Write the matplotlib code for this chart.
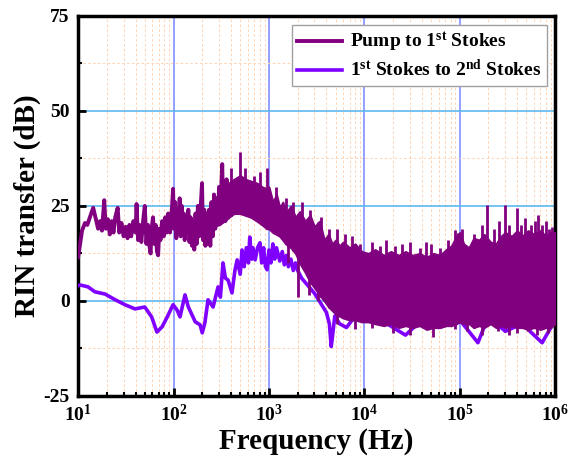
import numpy as np
import matplotlib
matplotlib.use('Agg')
from matplotlib import pyplot as plt
from matplotlib.ticker import LogLocator, MultipleLocator, FixedLocator, FixedFormatter, NullFormatter

plt.rcParams['font.family'] = 'Liberation Serif'
plt.rcParams['font.weight'] = 'bold'
plt.rcParams['mathtext.fontset'] = 'custom'
plt.rcParams['mathtext.rm'] = 'Liberation Serif:bold'
plt.rcParams['mathtext.bf'] = 'Liberation Serif:bold'
plt.rcParams['mathtext.it'] = 'Liberation Serif:bold'
plt.rcParams['axes.unicode_minus'] = False

# ---- pump -> 1st Stokes, low frequency part (single jagged trace)
pump_lf_f = [10, 10.5, 11, 11.8, 12.5, 13.5, 14.4, 15.2, 16.2, 17, 17.8, 18.8, 19.5, 20.5,
             21.5, 22.5, 23.5, 24.5, 26, 27, 28.5, 30, 31.5, 33, 34.5, 36, 38, 40, 41,
             42.5, 44, 46, 48, 50, 52, 54, 56, 57.5, 59, 61, 63, 65, 67, 69, 71, 73, 76,
             79, 82, 85, 88, 92, 95, 99, 101, 104, 107, 110, 113, 116, 119, 122, 125, 128,
             131, 135, 139, 143, 147, 151, 156, 160, 165, 170, 175, 180, 186, 192, 199,
             204, 210, 216, 222, 229, 236, 243, 250, 258, 266, 274, 282, 291, 300, 310,
             318, 324, 332, 340, 350, 360, 370]
pump_lf_db = [11.5, 15, 18.5, 20.5, 20, 22.5, 24.5, 22, 19, 21, 18.5, 26.5, 19, 21.5,
              17.5, 21, 18, 22, 24.5, 18, 20.5, 17, 19.5, 16.5, 20, 17, 21, 18, 25.5,
              16, 20, 15.5, 21, 25, 15, 20, 14.5, 12.5, 19, 22, 15, 20, 13, 12, 19, 16, 21,
              17, 22, 18, 23, 18, 22, 29.5, 19, 26, 16.5, 24, 18, 27, 17, 25, 19.5, 23,
              16, 22, 18, 24, 15.5, 22, 14.5, 21, 13.5, 23, 15, 25, 17, 24, 31,
              16, 24, 14.5, 23, 15, 24, 14.5, 26, 17, 28, 19, 27, 20, 30, 21,
              31, 36, 22, 31, 21, 32, 22]

# ---- pump -> 1st Stokes, dense band (upper / lower envelope)
band_f = [300, 340, 380, 430, 500, 570, 650, 750, 850, 950, 1000, 1100, 1200, 1300, 1400,
          1500, 1700, 1900, 2100, 2400, 2700, 3000, 3400, 3800, 4200, 4600, 5000, 5500,
          6000, 7000, 8000, 9400, 11000, 13000, 16000, 19000, 23000, 27000, 32000, 38000,
          45000, 53000, 62000, 72000, 82000, 92000, 100000, 110000, 125000, 140000,
          160000, 180000, 210000, 240000, 270000, 300000, 350000, 400000, 450000,
          520000, 600000, 700000, 800000, 900000, 1000000]
band_hi = [30, 29, 31, 32, 33, 32, 31.5, 31, 30, 29.5, 30, 26, 28, 24.5, 26,
           23, 25, 22, 23.5, 21, 22.5, 19.5, 21, 16, 17.5, 15, 16, 14.5,
           15.5, 14, 15, 13, 12.5, 13.5, 12, 13, 12, 13, 12, 12.5,
           11.5, 12.5, 12, 13.5, 14.5, 17, 18, 15, 14, 16.5,
           16, 17.5, 15.5, 15, 17, 18, 17, 18.5, 17,
           18.5, 17.5, 18.5, 17, 18, 18]
band_lo = [20, 21, 22, 23, 23, 22.5, 22, 21, 20, 19, 19, 18, 17.5, 17, 16,
           15, 14, 12.5, 10, 7.5, 5, 3.5, 1.5, 0, -1.5, -2.5, -3.5, -4,
           -4.5, -5, -5, -5.5, -5.5, -6, -6.5, -6, -7, -6.5, -7, -6.5,
           -7.5, -7, -7, -6.5, -6.5, -6, -5.5, -6, -6, -7,
           -6.5, -7, -6, -7, -6.5, -7, -6.5, -7, -7,
           -7.5, -7, -7.5, -7, -7, -6]

# spikes sticking out of the band (up and down)
spike_f = [400, 497, 560, 700, 800, 957, 1200, 1500, 1800, 2200, 2700, 3500, 4300, 5200,
           6200, 7500, 9000, 12000, 14500, 17000, 21000, 25000, 30000, 38000, 44000, 50000,
           62000, 75000, 90000, 95000, 105000, 140000, 170000, 195000, 230000, 260000,
           300000, 330000, 395000, 440000, 480000, 560000, 610000, 660000, 720000,
           800000, 860000, 930000]
spike_db = [35, 39.2, 35, 33, 34, 35, 30, 27, 26, 26, 24, 22, 19, 19,
            17.5, 17, 15, 15.5, 14.5, 16, 14.5, 15, 15.5, 14, 15.5, 15,
            14, 16, 18.7, 18, 19, 17.5, 20, 25.3, 19, 21,
            25.3, 20, 24.5, 20, 21.8, 20, 21, 22.5, 20,
            21, 19, 19.5]
dip_f = [1600, 2000, 2600, 3300, 5200, 8000, 12000, 20000, 30000, 52000, 90000, 120000,
         170000, 250000, 330000, 400000, 520000, 650000, 850000]
dip_db = [10, 1, 1.5, 0, -6, -7.5, -7, -8.5, -9, -9.5, -7.5, -8, -9, -8, -9, -8.5, -8, -9, -8.5]

# ---- 1st Stokes -> 2nd Stokes
st2_f = [10, 10.5, 12.7, 15, 19.2, 24.5, 31, 39.5, 50, 59, 67, 76, 86, 99, 109, 117,
         132, 143, 169, 190, 200, 213, 230, 260, 293, 310, 330, 350, 373, 410, 440, 465,
         500, 523, 550, 580, 610, 630, 660, 680, 717, 760, 805, 840, 880, 920, 957, 1000,
         1050, 1100, 1150, 1200, 1300, 1380, 1450, 1530, 1600, 1700, 1800, 1900, 2000,
         2200, 3000, 4000, 4300, 4500, 4700, 4900, 5500, 6500, 8000, 10000, 15000, 20000,
         27000, 40000, 60000, 100000, 155000, 200000, 300000, 450000, 600000, 730000,
         1000000]
st2_db = [4, 4.2, 3.7, 2.4, 1.8, 0.3, -1, -2.1, -1.6, -4.2, -8.2, -6.8, -4.2, -1, -2.4, -4.2,
          1.6, -1.6, -5.5, -6.3, -8.4, -5.8, 0.3, -1.6, 3.7, 1, 10, 6, 5.5, 2.1, 8, 10.8,
          7, 13.4, 9, 14, 10, 16.8, 11, 14, 10.8, 14, 15.3, 10, 14, 9, 8.2, 13.4,
          10, 15, 11, 14, 10.5, 13, 9.5, 12, 9, 11, 8, 10, 8,
          6, 2, -3, -6, -12, -8, -4, -6, -7, -4, -3, -5, -7,
          -9, -5, -7, -5, -11, -4, -8, -6, -9, -11, -5]

pump_color = '#800080'
st2_color = '#8000ff'

fig = plt.figure(figsize=(5.7, 4.68), dpi=100)
ax = fig.add_axes([0.137, 0.154, 0.837, 0.812])

ax.plot(st2_f, st2_db, color=st2_color, lw=2.6, zorder=3,
        label='1$^{\\rm st}$ Stokes to 2$^{\\rm nd}$ Stokes')

ax.plot(pump_lf_f, pump_lf_db, color=pump_color, lw=2.8, zorder=4,
        label='Pump to 1$^{\\rm st}$ Stokes')
ax.fill_between(band_f, band_lo, band_hi, color=pump_color, lw=1.5, edgecolor=pump_color,
                zorder=4)
lbf = np.log10(band_f)
base_up = np.interp(np.log10(spike_f), lbf, band_lo)
ax.vlines(spike_f, base_up, spike_db, color=pump_color, lw=2.0, zorder=4)
base_dn = np.interp(np.log10(dip_f), lbf, band_hi)
ax.vlines(dip_f, dip_db, base_dn, color=pump_color, lw=2.0, zorder=4)

ax.set_xscale('log')
ax.set_xlim(10, 1e6)
ax.set_ylim(-25, 75)

ax.yaxis.set_major_locator(MultipleLocator(25))
ax.yaxis.set_minor_locator(MultipleLocator(12.5))
xtick_pos = [1e1, 1e2, 1e3, 1e4, 1e5, 1e6]
xtick_labels = ['$10^{1}$', '$10^{2}$', '$10^{3}$', '$10^{4}$', '$10^{5}$', '$10^{6}$']
ax.xaxis.set_major_locator(FixedLocator(xtick_pos))
ax.xaxis.set_major_formatter(FixedFormatter(xtick_labels))
ax.xaxis.set_minor_locator(LogLocator(base=10, subs=np.arange(2, 10), numticks=20))
ax.xaxis.set_minor_formatter(NullFormatter())

ax.set_axisbelow(True)
ax.grid(which='minor', axis='both', color='#ffd2b0', linestyle=(0, (2.5, 2.5)),
        linewidth=0.7, zorder=0)
ax.xaxis.grid(which='major', color='#8090ff', linestyle='-', linewidth=1.2, zorder=1)
ax.yaxis.grid(which='major', color='#5cb8f0', linestyle='-', linewidth=1.2, zorder=1)

ax.tick_params(which='both', direction='in', top=False, right=False)
ax.tick_params(which='major', length=6, width=2, labelsize=14, pad=6)
ax.tick_params(which='minor', length=3, width=1.5)
for lab in ax.get_yticklabels():
    lab.set_fontweight('bold')
for sp in ax.spines.values():
    sp.set_linewidth(2.5)

ax.set_xlabel('Frequency (Hz)', fontsize=21, fontweight='bold', labelpad=2)
ax.set_ylabel('RIN transfer (dB)', fontsize=21, fontweight='bold', labelpad=2)

handles, labels = ax.get_legend_handles_labels()
leg = ax.legend(handles[::-1], labels[::-1], loc='upper right', bbox_to_anchor=(0.983, 0.976),
                borderaxespad=0, fontsize=14, fancybox=False, framealpha=1,
                edgecolor='#a0a0a0', handlelength=2.3, handletextpad=0.4,
                labelspacing=0.25, borderpad=0.3)
leg.get_frame().set_linewidth(1.0)
for t in leg.get_texts():
    t.set_fontweight('bold')

fig.savefig('out.png', dpi=100)
